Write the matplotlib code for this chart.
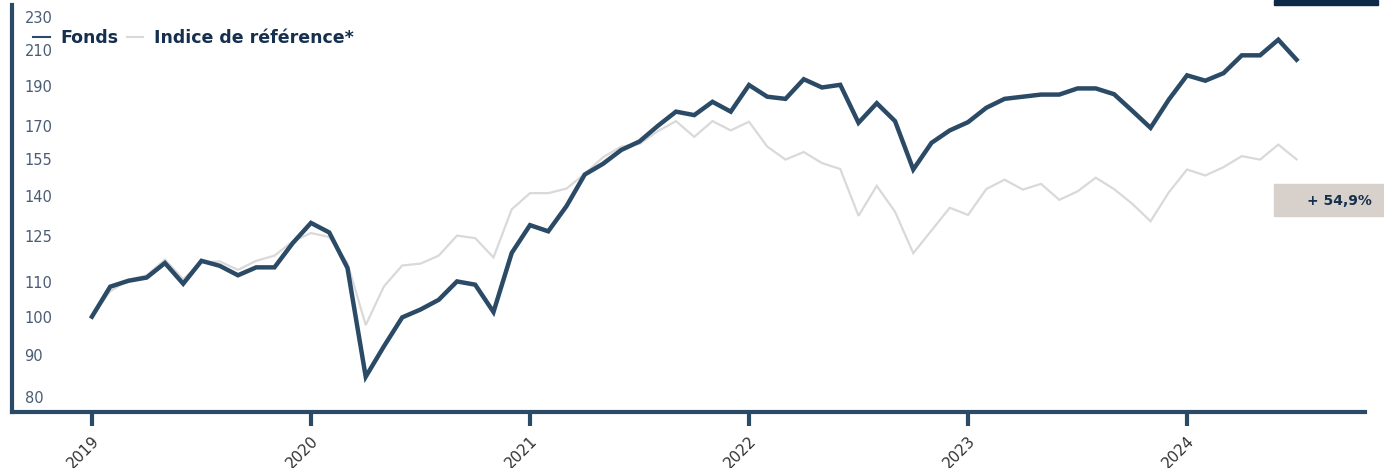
import numpy as np
import matplotlib
matplotlib.use("Agg")
import matplotlib.pyplot as plt
from matplotlib.lines import Line2D
from matplotlib.patches import Rectangle

# monthly values, base 100 in January 2019 (Jan 2019 -> Jul 2024)
fonds = [100.0, 108.7, 110.5, 111.5, 116.1, 109.6, 116.8, 115.2, 112.2, 114.7, 114.7, 122.7,
         129.8, 126.4, 114.5, 84.6, 92.1, 99.8, 102.0, 104.8, 110.3, 109.3, 101.3, 119.4,
         129.0, 126.8, 136.0, 148.5, 153.0, 159.0, 162.8, 170.0, 176.9, 175.2, 181.8, 176.9,
         190.5, 184.4, 183.3, 193.6, 189.2, 190.6, 171.5, 181.1, 172.3, 150.6, 162.2, 167.9,
         171.8, 178.8, 183.3, 184.4, 185.5, 185.5, 188.7, 188.7, 185.7, 177.3, 169.1, 182.9,
         195.7, 192.8, 196.9, 206.9, 206.9, 216.1, 204.4]

indice = [100.0, 107.3, 110.8, 112.2, 117.2, 111.0, 116.3, 116.6, 113.9, 116.8, 118.5, 123.3,
          126.2, 124.8, 116.1, 97.7, 108.8, 115.3, 115.9, 118.5, 125.3, 124.4, 117.9, 134.8,
          141.0, 141.0, 142.8, 148.8, 155.8, 160.5, 161.7, 167.5, 172.3, 164.9, 172.3, 167.9,
          172.0, 160.5, 154.8, 158.1, 153.3, 150.8, 132.4, 143.9, 133.9, 119.3, 127.1, 135.4,
          132.7, 142.6, 146.4, 142.4, 144.7, 138.4, 141.7, 147.2, 142.6, 136.9, 130.4, 141.3,
          150.6, 148.1, 151.6, 156.3, 154.8, 161.4, 154.9]

years = ["2019", "2020", "2021", "2022", "2023", "2024"]
y_ticks = [80, 90, 100, 110, 125, 140, 155, 170, 190, 210, 230]
perf_label = "+ 54,9%"

months = np.arange(len(fonds))
year_pos = np.arange(len(years)) * 12

navy = "#2b4a66"
light = "#d9d9d9"
text_navy = "#152f4e"

plt.rcParams["font.family"] = ["DejaVu Sans"]

fig = plt.figure(figsize=(13.84, 4.68), dpi=100)
W, H = 1384, 468
ax = fig.add_axes([12 / W, (H - 412) / H, (1365 - 12) / W, (412 - 5) / H])

ax.plot(months, indice, color=light, lw=1.6, solid_joinstyle="miter", zorder=2)
ax.plot(months, fonds, color=navy, lw=3.2, solid_joinstyle="miter", zorder=3)

ax.set_yscale("log")
ax.set_ylim(76.7, 238)
ax.set_yticks(y_ticks)
ax.set_yticklabels([str(v) for v in y_ticks])
ax.yaxis.set_minor_locator(matplotlib.ticker.NullLocator())
ax.tick_params(axis="y", length=0, pad=-9, labelsize=10.5, labelcolor="#4a5d74")
for lbl in ax.get_yticklabels():
    lbl.set_horizontalalignment("left")

ax.set_xlim(-4.38, 69.75)
ax.set_xticks(year_pos)
ax.set_xticklabels(years)
ax.tick_params(axis="x", length=10, width=3, color=navy, labelsize=11,
               labelcolor="#333333", pad=5)
for lbl in ax.get_xticklabels():
    lbl.set_rotation(45)
    lbl.set_horizontalalignment("right")
    lbl.set_rotation_mode("anchor")

for side in ["top", "right"]:
    ax.spines[side].set_visible(False)
for side in ["left", "bottom"]:
    ax.spines[side].set_color(navy)
    ax.spines[side].set_linewidth(3)

handles = [Line2D([0], [0], color=navy, lw=1.5), Line2D([0], [0], color=light, lw=1.5)]
fig.legend(handles, ["Fonds", "Indice de référence*"], loc="center left",
           bbox_to_anchor=(28 / W, 1 - 38 / H), ncol=2, frameon=False,
           handlelength=0.95, handletextpad=0.6, columnspacing=0.5,
           prop={"weight": "bold", "size": 12.5}, labelcolor=text_navy,
           borderaxespad=0, borderpad=0.3)

# performance box and top-right bar
fig.patches.append(Rectangle((1274 / W, 1 - 216 / H), 110 / W, 32 / H,
                             transform=fig.transFigure, color="#d8d0ca", zorder=1))
fig.text(1372 / W, 1 - 201 / H, perf_label, ha="right", va="center",
         fontsize=10, fontweight="bold", color=text_navy)
fig.patches.append(Rectangle((1274 / W, 1 - 5 / H), 104 / W, 5 / H,
                             transform=fig.transFigure, color="#0f2a48", zorder=1))

fig.savefig("out.png", dpi=100)
